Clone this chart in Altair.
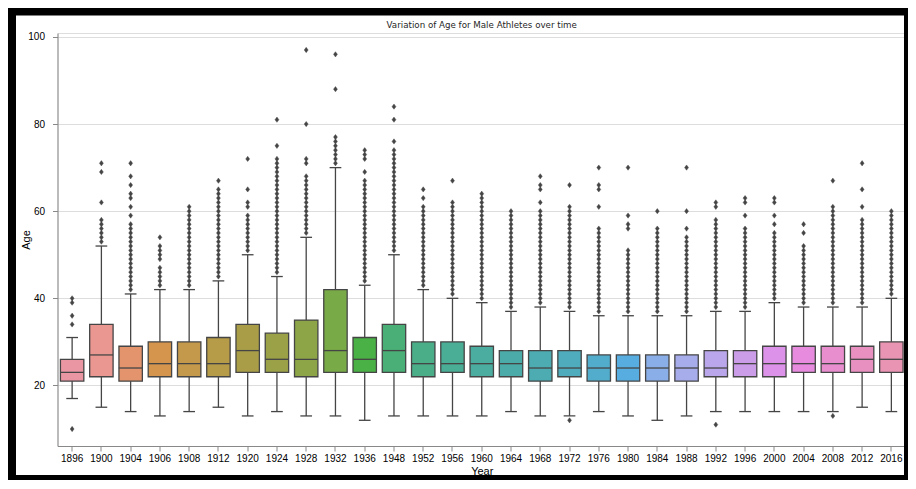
import math
import colorsys
import altair as alt
import pandas as pd

# ---------------- data ----------------
years = ["1896", "1900", "1904", "1906", "1908", "1912", "1920", "1924", "1928", "1932",
         "1936", "1948", "1952", "1956", "1960", "1964", "1968", "1972", "1976", "1980",
         "1984", "1988", "1992", "1996", "2000", "2004", "2008", "2012", "2016"]
q1 = [21, 22, 21, 22, 22, 22, 23, 23, 22, 23, 23, 23, 22, 23, 22, 22, 21, 22, 21, 21,
      21, 21, 22, 22, 22, 23, 23, 23, 23]
median = [23, 27, 24, 25, 25, 25, 28, 26, 26, 28, 26, 28, 25, 25, 25, 25, 24, 24, 24, 24,
          24, 24, 24, 25, 25, 25, 25, 26, 26]
q3 = [26, 34, 29, 30, 30, 31, 34, 32, 35, 42, 31, 34, 30, 30, 29, 28, 28, 28, 27, 27,
      27, 27, 28, 28, 29, 29, 29, 29, 30]
whisker_lo = [17, 15, 14, 13, 14, 15, 13, 14, 13, 13, 12, 13, 13, 13, 13, 14, 13, 13, 14, 13,
              12, 13, 14, 14, 14, 14, 14, 15, 14]
whisker_hi = [31, 52, 41, 42, 42, 44, 50, 45, 54, 70, 43, 50, 42, 40, 39, 37, 38, 37, 36, 36,
              36, 36, 37, 37, 39, 38, 38, 38, 40]
outliers = [
    [10, 34, 36, 39, 40],
    [53, 54, 55, 56, 57, 58, 62, 69, 71],
    [42, 43, 44, 45, 46, 47, 48, 49, 50, 51, 52, 53, 54, 55, 56, 57, 59, 61, 63, 64, 66, 68, 71],
    [43, 44, 45, 46, 47, 49, 50, 51, 52, 54],
    [43, 44, 45, 46, 47, 48, 49, 50, 51, 52, 53, 54, 55, 56, 57, 58, 59, 60, 61],
    [45, 46, 47, 48, 49, 50, 51, 52, 53, 54, 55, 56, 57, 58, 59, 60, 61, 62, 63, 64, 65, 67],
    [51, 52, 53, 54, 55, 56, 57, 58, 59, 61, 62, 65, 72],
    [46, 47, 48, 49, 50, 51, 52, 53, 54, 55, 56, 57, 58, 59, 60, 61, 62, 63, 64, 65, 66, 67,
     68, 69, 70, 71, 72, 75, 81],
    [55, 56, 57, 58, 59, 60, 61, 62, 63, 64, 65, 66, 67, 68, 71, 72, 80, 97],
    [71, 72, 73, 74, 75, 76, 77, 88, 96],
    [44, 45, 46, 47, 48, 49, 50, 51, 52, 53, 54, 55, 56, 57, 58, 59, 60, 61, 62, 63, 64, 65,
     66, 67, 69, 72, 73, 74],
    [51, 52, 53, 54, 55, 56, 57, 58, 59, 60, 61, 62, 63, 64, 65, 66, 67, 68, 69, 70, 71, 72,
     73, 74, 76, 81, 84],
    [43, 44, 45, 46, 47, 48, 49, 50, 51, 52, 53, 54, 55, 56, 57, 58, 59, 60, 61, 63, 65],
    [41, 42, 43, 44, 45, 46, 47, 48, 49, 50, 51, 52, 53, 54, 55, 56, 57, 58, 59, 60, 61, 62, 67],
    [40, 41, 42, 43, 44, 45, 46, 47, 48, 49, 50, 51, 52, 53, 54, 55, 56, 57, 58, 59, 60, 61,
     62, 63, 64],
    [38, 39, 40, 41, 42, 43, 44, 45, 46, 47, 48, 49, 50, 51, 52, 53, 54, 55, 56, 57, 58, 59, 60],
    [39, 40, 41, 42, 43, 44, 45, 46, 47, 48, 49, 50, 51, 52, 53, 54, 55, 56, 57, 58, 59, 60,
     62, 65, 66, 68],
    [12, 38, 39, 40, 41, 42, 43, 44, 45, 46, 47, 48, 49, 50, 51, 52, 53, 54, 55, 56, 57, 58,
     59, 60, 61, 66],
    [37, 38, 39, 40, 41, 42, 43, 44, 45, 46, 47, 48, 49, 50, 51, 52, 53, 54, 55, 56, 61, 65,
     66, 70],
    [37, 38, 39, 40, 41, 42, 43, 44, 45, 46, 47, 48, 49, 50, 51, 56, 57, 59, 70],
    [37, 38, 39, 40, 41, 42, 43, 44, 45, 46, 47, 48, 49, 50, 51, 52, 53, 54, 55, 56, 60],
    [37, 38, 39, 40, 41, 42, 43, 44, 45, 46, 47, 48, 49, 50, 51, 52, 53, 54, 56, 60, 70],
    [11, 38, 39, 40, 41, 42, 43, 44, 45, 46, 47, 48, 49, 50, 51, 52, 53, 54, 55, 56, 57, 58,
     61, 62],
    [38, 39, 40, 41, 42, 43, 44, 45, 46, 47, 48, 49, 50, 51, 52, 53, 54, 55, 56, 59, 62, 63],
    [40, 41, 42, 43, 44, 45, 46, 47, 48, 49, 50, 51, 52, 53, 54, 55, 57, 59, 62, 63],
    [39, 40, 41, 42, 43, 44, 45, 46, 47, 48, 49, 50, 51, 52, 55, 57],
    [13, 39, 40, 41, 42, 43, 44, 45, 46, 47, 48, 49, 50, 51, 52, 53, 54, 55, 56, 57, 58, 59,
     60, 61, 67],
    [39, 40, 41, 42, 43, 44, 45, 46, 47, 48, 49, 50, 51, 52, 53, 54, 55, 56, 57, 58, 61, 65, 71],
    [41, 42, 43, 44, 45, 46, 47, 48, 49, 50, 51, 52, 53, 54, 55, 56, 57, 58, 59, 60],
]
y_ticks = [20, 40, 60, 80, 100]
title_text = "Variation of Age for Male Athletes over time"

# ---------------- seaborn-like husl palette (desaturated) ----------------
_M = [[3.2406, -1.5372, -0.4986], [-0.9689, 1.8758, 0.0415], [0.0557, -0.2040, 1.0570]]
_refU, _refV = 0.19784, 0.46834


def _max_chroma(L, H):
    hrad = math.radians(H)
    sinH, cosH = math.sin(hrad), math.cos(hrad)
    sub1 = (L + 16) ** 3 / 1560896.0
    sub2 = sub1 if sub1 > 0.008856 else L / 903.3
    result = float("inf")
    for m1, m2, m3 in _M:
        top = (0.99915 * m1 + 1.05122 * m2 + 1.14460 * m3) * sub2
        rbottom = 0.86330 * m3 - 0.17266 * m2
        lbottom = 0.12949 * m3 - 0.38848 * m1
        bottom = (rbottom * sinH + lbottom * cosH) * sub2
        for t in (0.0, 1.0):
            C = L * (top - 1.05122 * t) / (bottom + 0.17266 * sinH * t)
            if 0.0 < C < result:
                result = C
    return result


def _husl_to_rgb(H, S, L):
    C = _max_chroma(L, H) / 100.0 * S
    hr = math.radians(H)
    U, V = math.cos(hr) * C, math.sin(hr) * C
    t = (L + 16.0) / 116.0
    varY = t ** 3 if t ** 3 > 0.008856 else (116.0 * t - 16.0) / 903.3
    varU = U / (13.0 * L) + _refU
    varV = V / (13.0 * L) + _refV
    Y = varY
    X = 0.0 - (9.0 * Y * varU) / ((varU - 4.0) * varV - varU * varV)
    Z = (9.0 * Y - 15.0 * varV * Y - varV * X) / (3.0 * varV)
    out = []
    for row in _M:
        c = row[0] * X + row[1] * Y + row[2] * Z
        c = 12.92 * c if c <= 0.0031308 else 1.055 * c ** (1 / 2.4) - 0.055
        out.append(min(1.0, max(0.0, c)))
    return out


n = len(years)
cols = []
for i in range(n):
    h = ((i / n) + 0.01) % 1 * 359
    r, g, b = _husl_to_rgb(h, 0.9 * 99, 0.7 * 99)
    hh, ll, ss = colorsys.rgb_to_hls(r, g, b)
    cols.append(colorsys.hls_to_rgb(hh, ll, ss * 0.75))
lum = min(colorsys.rgb_to_hls(*c)[1] for c in cols) * 0.6
to_hex = lambda c: "#%02x%02x%02x" % tuple(int(round(v * 255)) for v in c)
box_colors = [to_hex(c) for c in cols]
gray = to_hex((lum, lum, lum))

# ---------------- tables ----------------
box_df = pd.DataFrame({"Year": years, "q1": q1, "med": median, "q3": q3,
                       "lo": whisker_lo, "hi": whisker_hi})
out_df = pd.DataFrame([{"Year": y, "Age": a} for y, lst in zip(years, outliers) for a in lst])

# layout (chart pixels; the page adds 8px)
PL, PT = 49.5, 25
W, H = 848.5, 413
SVG_W, SVG_H = 900, 472
step = W / n
bw = step * 0.8
LW = 1.3
FONT = "DejaVu Sans"
TXT = "#262626"

xs = alt.Scale(domain=years, paddingInner=0.2, paddingOuter=0.1)
ys = alt.Scale(domain=[6.1, 100.9], nice=False, zero=False)
x_axis = alt.Axis(title="Year", labelAngle=0, grid=False, labelPadding=2, titlePadding=2,
                  titleFontWeight="normal")
y_axis = alt.Axis(title="Age", values=y_ticks, grid=True, labelPadding=8,
                  titleFontWeight="normal", titleX=-26)


def X():
    return alt.X("Year:N", scale=xs, sort=years, axis=x_axis, title="Year")


def Y(field):
    return alt.Y(field, scale=ys, axis=y_axis, title="Age")


base = alt.Chart(box_df)
w_hi = base.mark_rule(color=gray, strokeWidth=LW).encode(x=X(), y=Y("q3:Q"), y2="hi:Q")
w_lo = base.mark_rule(color=gray, strokeWidth=LW).encode(x=X(), y=Y("lo:Q"), y2="q1:Q")
boxes = base.mark_bar(stroke=gray, strokeWidth=LW, opacity=1).encode(
    x=X(), y=Y("q1:Q"), y2="q3:Q",
    color=alt.Color("Year:N", scale=alt.Scale(domain=years, range=box_colors), legend=None))
meds = base.mark_tick(color=gray, thickness=LW, size=bw, opacity=1).encode(x=X(), y=Y("med:Q"))
cap_hi = base.mark_tick(color=gray, thickness=LW, size=bw / 2, opacity=1).encode(x=X(), y=Y("hi:Q"))
cap_lo = base.mark_tick(color=gray, thickness=LW, size=bw / 2, opacity=1).encode(x=X(), y=Y("lo:Q"))
fliers = alt.Chart(out_df).mark_point(
    shape="M0,-1L0.75,0L0,1L-0.75,0Z", filled=True, size=28, color=gray, opacity=1,
    stroke=gray, strokeWidth=0.4
).encode(x=X(), y=Y("Age:Q"))

one = alt.Data(values=[{"a": 1}])
title_mark = alt.Chart(one).mark_text(
    text=title_text, font=FONT, fontSize=8.7, color=TXT, align="center", baseline="middle"
).encode(x=alt.value(W / 2), y=alt.value(-8))


def bar(x0, x1, y0, y1):
    return alt.Chart(one).mark_rect(color="black", clip=False, opacity=1).encode(
        x=alt.value(x0 - PL), x2=alt.value(x1 - PL), y=alt.value(y0 - PT), y2=alt.value(y1 - PT))


frame = [
    bar(-1, 8, -1, SVG_H),            # left
    bar(-1, SVG_W, -1, 7.5),          # top
    bar(896, SVG_W, -1, SVG_H),       # right
    bar(-1, SVG_W, SVG_H - 5, SVG_H),  # bottom
]

chart = alt.layer(w_hi, w_lo, boxes, meds, cap_hi, cap_lo, fliers, title_mark, *frame).properties(
    width=W, height=H,
    autosize=alt.AutoSizeParams(type="none"),
    padding={"left": PL, "top": PT, "right": SVG_W - PL - W, "bottom": SVG_H - PT - H},
).configure_view(fill="#EAEAF2", stroke=None).configure_axis(
    domain=False, ticks=False, tickSize=0, labelFont=FONT, labelFontSize=8, labelColor=TXT,
    titleFont=FONT, titleFontSize=8.7, titleFontWeight="normal", titleColor=TXT,
    gridColor="white", gridWidth=1, gridOpacity=1,
).configure(background="white")

chart.save("out.html", embed_options={"renderer": "svg", "actions": False})
